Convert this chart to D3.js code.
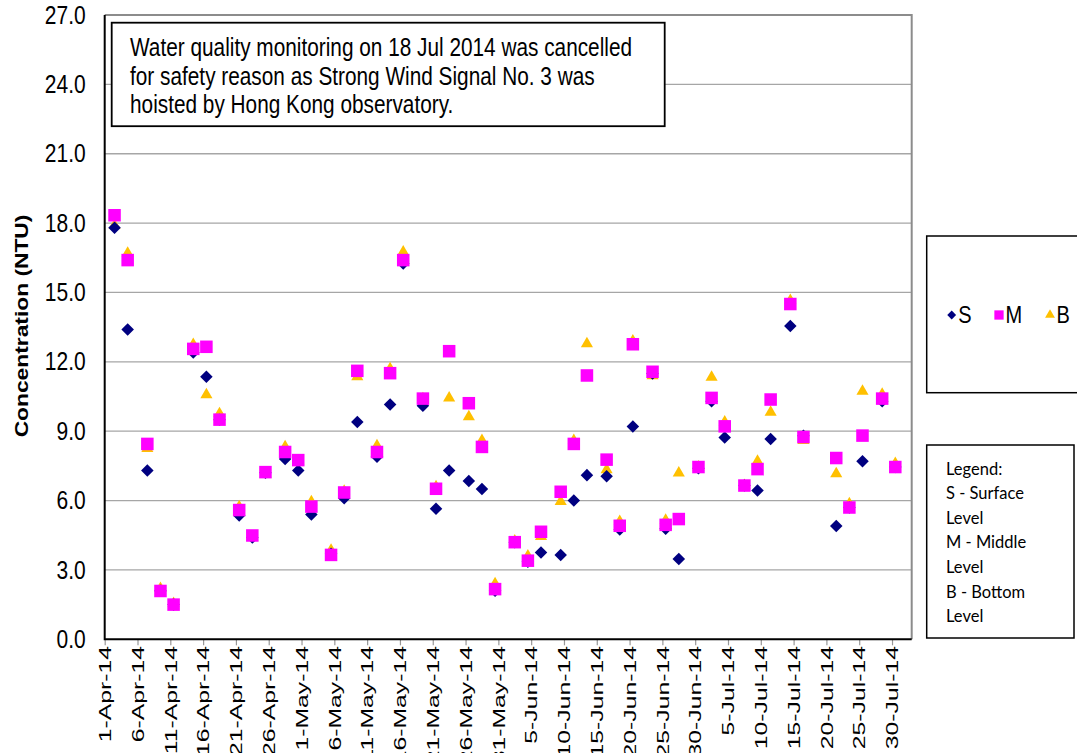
<!DOCTYPE html>
<html>
<head>
<meta charset="utf-8">
<script src="https://cdn.jsdelivr.net/npm/d3@7"></script>
<style>
  html, body { margin: 0; padding: 0; background: #fff; }
  svg { display: block; }
</style>
</head>
<body>
<svg id="chart" width="1077" height="753"></svg>
<script>
// Sampling dates (Apr–Jul 2014)
const dates = [
  "2014-04-02","2014-04-04","2014-04-07","2014-04-09","2014-04-11","2014-04-14","2014-04-16","2014-04-18",
  "2014-04-21","2014-04-23","2014-04-25","2014-04-28","2014-04-30","2014-05-02","2014-05-05","2014-05-07",
  "2014-05-09","2014-05-12","2014-05-14","2014-05-16","2014-05-19","2014-05-21","2014-05-23","2014-05-26",
  "2014-05-28","2014-05-30","2014-06-02","2014-06-04","2014-06-06","2014-06-09","2014-06-11","2014-06-13",
  "2014-06-16","2014-06-18","2014-06-20","2014-06-23","2014-06-25","2014-06-27","2014-06-30","2014-07-02",
  "2014-07-04","2014-07-07","2014-07-09","2014-07-11","2014-07-14","2014-07-16","2014-07-21","2014-07-23",
  "2014-07-25","2014-07-28","2014-07-30"
];
// Surface level (NTU)
const surface = [
  17.8, 13.4, 7.3, 2.1, 1.5, 12.4, 11.35, 9.5,
  5.35, 4.4, 7.2, 7.8, 7.3, 5.4, 3.7, 6.1,
  9.4, 7.9, 10.15, 16.25, 10.1, 5.65, 7.3, 6.85,
  6.5, 2.1, 4.2, 3.35, 3.75, 3.65, 6.0, 7.1,
  7.05, 4.75, 9.2, 11.5, 4.78, 3.47, 7.4, 10.3,
  8.73, 6.65, 6.44, 8.66, 13.55, 8.8, 4.9, 5.7,
  7.7, 10.3, 7.45
];
// Middle level (NTU)
const middle = [
  18.34, 16.4, 8.45, 2.09, 1.5, 12.56, 12.65, 9.5,
  5.59, 4.49, 7.23, 8.1, 7.75, 5.74, 3.65, 6.35,
  11.61, 8.1, 11.51, 16.4, 10.41, 6.51, 12.46, 10.21,
  8.32, 2.17, 4.2, 3.4, 4.65, 6.38, 8.45, 11.41,
  7.77, 4.91, 12.76, 11.57, 4.95, 5.2, 7.45, 10.44,
  9.21, 6.65, 7.36, 10.37, 14.5, 8.75, 7.84, 5.7,
  8.81, 10.41, 7.45
];
// Bottom level (NTU)
const bottom = [
  17.9, 16.7, 8.25, 2.2, 1.55, 12.75, 10.58, 9.76,
  5.73, 4.4, 7.15, 8.33, 7.7, 5.95, 3.85, 6.4,
  11.36, 8.37, 11.7, 16.75, 10.4, 6.6, 10.44, 9.62,
  8.6, 2.4, 4.25, 3.6, 4.45, 5.96, 8.6, 12.78,
  7.33, 5.1, 12.9, 11.4, 5.15, 7.19, 7.45, 11.33,
  9.4, 6.65, 7.7, 9.82, 14.65, 8.6, 7.16, 5.86,
  10.73, 10.6, 7.6
];
const tickLabels = [
  "1-Apr-14","6-Apr-14","11-Apr-14","16-Apr-14","21-Apr-14","26-Apr-14","1-May-14","6-May-14",
  "11-May-14","16-May-14","21-May-14","26-May-14","31-May-14","5-Jun-14","10-Jun-14","15-Jun-14",
  "20-Jun-14","25-Jun-14","30-Jun-14","5-Jul-14","10-Jul-14","15-Jul-14","20-Jul-14","25-Jul-14","30-Jul-14"
];
const yTicks = [0, 3, 6, 9, 12, 15, 18, 21, 24, 27];
const seriesNames = ["S", "M", "B"];
const noteLines = [
  "Water quality monitoring on 18 Jul 2014 was cancelled",
  "for safety reason as Strong Wind Signal No. 3 was",
  "hoisted by Hong Kong observatory."
];
const legendNotes = ["Legend:", "S - Surface", "Level", "M - Middle", "Level", "B - Bottom", "Level"];

const svg = d3.select("#chart");
const plot = { left: 104.7, right: 911.7, top: 15, bottom: 639.3 };
const FONT = "'Liberation Sans', Arial, sans-serif";
const STRETCH = 1.2;   // text is drawn slightly tall and narrow

const parseISO = d3.utcParse("%Y-%m-%d");
const parseTick = d3.utcParse("%-d-%b-%y");
const fmtTick = d3.utcFormat("%-d-%b-%y");

// Each day occupies one slot; points sit in the middle of their day
const x = d3.scaleUtc()
  .domain([parseISO("2014-04-01"), parseISO("2014-08-02")])
  .range([plot.left, plot.right]);
const y = d3.scaleLinear().domain([0, 27]).range([plot.bottom, plot.top]);
const mid = d => d3.utcHour.offset(parseISO(d), 12);

// Gridlines
svg.append("g").selectAll("line")
  .data(yTicks.filter(v => v > 0 && v < 27))
  .join("line")
  .attr("x1", plot.left).attr("x2", plot.right)
  .attr("y1", d => y(d)).attr("y2", d => y(d))
  .attr("stroke", "#a6a6a6").attr("stroke-width", 1.3);

// Plot frame (top/right)
svg.append("path")
  .attr("d", `M${plot.left},${plot.top}H${plot.right}V${plot.bottom}`)
  .attr("fill", "none").attr("stroke", "#8c8c8c").attr("stroke-width", 2);

// X axis
const tickDates = tickLabels.map(parseTick);
const xAxis = d3.axisBottom(x)
  .tickValues(tickDates)
  .tickFormat(fmtTick)
  .tickSize(6)
  .tickSizeOuter(0);
const gx = svg.append("g")
  .attr("transform", `translate(0,${plot.bottom})`)
  .call(xAxis);
gx.select(".domain").remove();
gx.selectAll(".tick line").attr("stroke", "#999").attr("stroke-width", 1.2);
gx.selectAll(".tick text")
  .attr("font-family", FONT).attr("font-size", 16.5).attr("fill", "#000")
  .attr("transform", "rotate(-90) scale(1.5,1)")
  .attr("text-anchor", "end")
  .attr("x", -4.5).attr("y", 0).attr("dy", "0.35em");

// Y axis
const yAxis = d3.axisLeft(y).tickValues(yTicks).tickFormat(d3.format(".1f")).tickSize(0);
const gy = svg.append("g").attr("transform", `translate(${plot.left},0)`).call(yAxis);
gy.select(".domain").remove();
gy.selectAll(".tick text")
  .attr("font-family", FONT).attr("font-size", 21).attr("fill", "#000")
  .attr("x", -19)
  .attr("transform", `scale(1,${STRETCH})`);

// Axis lines (black)
svg.append("path")
  .attr("d", `M${plot.left},${plot.top}V${plot.bottom}H${plot.right}`)
  .attr("fill", "none").attr("stroke", "#000").attr("stroke-width", 2);

// Y axis title
svg.append("text")
  .attr("transform", `translate(28,326) rotate(-90) scale(${STRETCH},1)`)
  .attr("text-anchor", "middle")
  .attr("font-family", FONT).attr("font-weight", "bold").attr("font-size", 19)
  .text("Concentration (NTU)");

// Markers
const colors = { S: "#000080", M: "#ff00ff", B: "#ffc000" };
const sym = {
  S: d3.symbol().type(d3.symbolDiamond2).size(100),
  M: d3.symbol().type(d3.symbolSquare2).size(200),
  B: d3.symbol().type(d3.symbolTriangle2).size(105)
};
const values = { S: surface, M: middle, B: bottom };
const drawOrder = ["B", "S", "M"];
drawOrder.forEach(k => {
  svg.append("g").selectAll("path")
    .data(dates.map((d, i) => ({ d, v: values[k][i] })))
    .join("path")
    .attr("transform", p => `translate(${x(mid(p.d))},${y(p.v)})`)
    .attr("d", sym[k]())
    .attr("fill", colors[k]);
});

// Note box
const note = svg.append("g");
note.append("rect")
  .attr("x", 111.7).attr("y", 22.7).attr("width", 553).attr("height", 103.5)
  .attr("fill", "#fff").attr("stroke", "#000").attr("stroke-width", 1.8);
note.selectAll("text").data(noteLines).join("text")
  .attr("transform", (d, i) => `translate(130,${56 + i * 28.5}) scale(1,${STRETCH})`)
  .attr("font-family", FONT).attr("font-size", 20.8)
  .text(d => d);

// Series legend
const lg = svg.append("g");
lg.append("rect")
  .attr("x", 926.7).attr("y", 236).attr("width", 160).attr("height", 156.7)
  .attr("fill", "#fff").attr("stroke", "#000").attr("stroke-width", 1.5);
const legendX = [951.7, 999, 1050];
const legendShape = { S: d3.symbolDiamond2, M: d3.symbolSquare2, B: d3.symbolTriangle2 };
const legendSize = { S: 50, M: 110, B: 70 };
seriesNames.forEach((k, i) => {
  lg.append("path")
    .attr("transform", `translate(${legendX[i]},315)`)
    .attr("d", d3.symbol().type(legendShape[k]).size(legendSize[k])())
    .attr("fill", colors[k]);
  lg.append("text")
    .attr("transform", `translate(${legendX[i] + 6.5},323) scale(1,${STRETCH})`)
    .attr("font-family", FONT).attr("font-size", 20)
    .text(k);
});

// Level notes
const ln = svg.append("g");
ln.append("rect")
  .attr("x", 926.7).attr("y", 445).attr("width", 147.3).attr("height", 193)
  .attr("fill", "#fff").attr("stroke", "#000").attr("stroke-width", 1.5);
ln.selectAll("text").data(legendNotes).join("text")
  .attr("x", 946).attr("y", (d, i) => 474.5 + i * 24.6)
  .attr("font-family", "Lato, 'Open Sans', sans-serif").attr("font-size", 16.5)
  .text(d => d);
</script>
</body>
</html>
